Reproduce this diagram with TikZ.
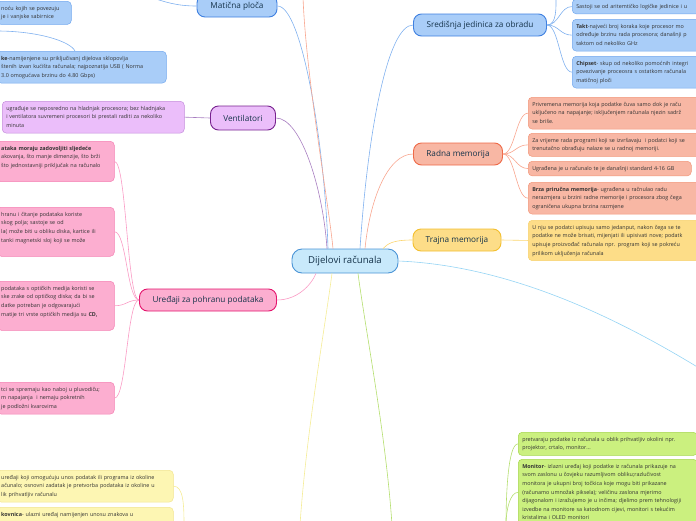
\documentclass[tikz,border=0pt]{standalone}
\usepackage{fontspec}
\setmainfont{Open Sans}
\definecolor{rootfill}{HTML}{C8E9FB}
\definecolor{rootline}{HTML}{4A94D6}
\definecolor{bluefill}{HTML}{A9CDF8}
\definecolor{blueline}{HTML}{3F80E0}
\definecolor{bluenote}{HTML}{72A8EE}
\definecolor{bluelink}{HTML}{80B1EF}
\definecolor{ramfill}{HTML}{F8B7A4}
\definecolor{ramline}{HTML}{EE6A48}
\definecolor{ramnote}{HTML}{F29679}
\definecolor{ramlink}{HTML}{F8A68F}
\definecolor{romfill}{HTML}{FDDD88}
\definecolor{romline}{HTML}{F3BF2E}
\definecolor{romlink}{HTML}{FBD56F}
\definecolor{fanfill}{HTML}{EBBEFA}
\definecolor{fanline}{HTML}{78238F}
\definecolor{fannote}{HTML}{C48CDC}
\definecolor{fanlink}{HTML}{A77DC0}
\definecolor{stfill}{HTML}{FCAED0}
\definecolor{stline}{HTML}{E4146D}
\definecolor{stnote}{HTML}{F47FB2}
\definecolor{stlink}{HTML}{FA9BC5}
\definecolor{infill}{HTML}{FDF6B3}
\definecolor{innote}{HTML}{F2E48E}
\definecolor{inlink}{HTML}{F5EC96}
\definecolor{outfill}{HTML}{CBF07F}
\definecolor{outnote}{HTML}{A5D64C}
\definecolor{outlink}{HTML}{B4DE6E}
\definecolor{farlink}{HTML}{95D4F4}
\definecolor{labeltext}{HTML}{15334A}
\definecolor{notetext}{HTML}{333333}

\begin{document}
\begin{tikzpicture}[x=1pt, y=-1pt]
\tikzstyle{topic}=[draw, line width=0.9pt, rounded corners=8pt, minimum height=22pt, inner xsep=6pt, text=labeltext, font=\fontsize{8.2}{10}\selectfont]
\tikzstyle{note}=[draw, line width=0.5pt, rounded corners=4pt, anchor=north west, align=left, inner xsep=4pt, inner ysep=3pt, text=notetext, font=\fontsize{5.4}{8.6}\selectfont, execute at begin node=\strut, execute at end node=\strut]
\tikzstyle{link}=[line width=0.6pt]
\useasboundingbox (0,0) rectangle (696,520);
% main topics
\node [topic, fill=rootfill, draw=rootline, minimum width=106pt, minimum height=24pt, rounded corners=10pt, font=\fontsize{9.6}{11}\selectfont] (root) at (345,261) {Dijelovi računala};
\node [topic, fill=bluefill, draw=blueline, minimum width=80pt] (mb) at (237,6) {Matična ploča};
\node [topic, fill=bluefill, draw=blueline, minimum width=133pt] (cpu) at (480,25) {Središnja jedinica za obradu};
\node [topic, fill=ramfill, draw=ramline, minimum width=89pt] (ram) at (458,154) {Radna memorija};
\node [topic, fill=romfill, draw=romline, minimum width=88pt] (rom) at (457,240) {Trajna memorija};
\node [topic, fill=fanfill, draw=fanline, minimum width=65pt, minimum height=24pt] (fan) at (243,118) {Ventilatori};
\node [topic, fill=stfill, draw=stline, minimum width=137pt] (stor) at (208,300) {Uređaji za pohranu podataka};
% notes
\node [note, fill=bluefill, draw=bluenote, text width=66pt] (mb1) at (-3,1) {noću kojih se povezuju\\je i vanjske sabirnice};
\node [note, fill=bluefill, draw=bluenote, text width=161pt] (mb2) at (-3,51) {\textbf{ke}-namijenjene su priključivanj dijelova sklopovlja\\štenih izvan kućišta računala; najpoznatija USB ( Norma\\3.0 omogućava brzinu do 4.80 Gbps)};
\node [note, fill=bluefill, draw=bluenote, text width=150pt] (cpu0) at (572,-1) {Sastoji se od aritemtičko logičke jedinice i u};
\node [note, fill=bluefill, draw=bluenote, text width=150pt] (cpu1) at (572,19) {\textbf{Takt}-najveći broj koraka koje procesor mo\\određuje brzinu rada procesora; današnji p\\taktom od nekoliko GHz};
\node [note, fill=bluefill, draw=bluenote, text width=150pt] (cpu2) at (572,56) {\textbf{Chipset}- skup od nekoliko pomoćnih integri\\povezivanje proceosra s ostatkom računala\\matičnoj ploči};
\node [note, fill=ramfill, draw=ramnote, text width=180pt] (ram1) at (528,97) {Privremena memorija koja podatke čuva samo dok je raču\\uključeno na napajanje; isključenjem računala njezin sadrž\\se briše.};
\node [note, fill=ramfill, draw=ramnote, text width=180pt] (ram2) at (528,133) {Za vrijeme rada programi koji se izvršavaju\ \ i podatci koji se\\trenutačno obrađuju nalaze se u radnoj memoriji.};
\node [note, fill=ramfill, draw=ramnote, text width=155pt] (ram3) at (528,161) {Ugrađena je u računalo te je današnji standard 4-16 GB};
\node [note, fill=ramfill, draw=ramnote, text width=180pt] (ram4) at (528,182) {\textbf{Brza priručna memorija}- ugrađena u račnulao radu\\nerazmjera u brzini radne memorije i procesora zbog čega\\ograničena ukupna brzina razmjene};
\node [note, fill=romfill, draw=romline!70, text width=180pt] (rom1) at (528,220) {U nju se podatci upisuju samo jedanput, nakon čega se te\\podatke ne može brisati, mijenjati ili upisivati nove; podatk\\upisuje proizvođač računala npr. program koji se pokreću\\prilikom uključenja računala};
\node [note, fill=fanfill, draw=fannote, text width=174pt] (fan1) at (2,101) {ugrađuje se neposredno na hladnjak procesora; bez hladnjaka\\i ventilatora suvremeni procesori bi prestali raditi za nekoliko\\minuta};
\node [note, fill=stfill, draw=stnote, text width=109pt] (st1) at (-3,141) {\textbf{ataka moraju zadovoljiti sljedeće}\\akovanja, što manje dimenzije, što brži\\što jednostavniji priključak na računalo\\};
\node [note, fill=stfill, draw=stnote, text width=109pt] (st2) at (-3,207) {hranu i čitanje podataka koriste\\skog polja; sastoje se od\\la( može biti u obliku diska, kartice ili\\ tanki magnetski sloj koji se može\\};
\node [note, fill=stfill, draw=stnote, text width=109pt] (st3) at (-3,281) {podataka s optičkih medija koristi se\\ske zrake od optičkog diska; da bi se\\datke potreban je odgovarajući\\matije tri vrste optičkih medija su \textbf{CD,}\\};
\node [note, fill=stfill, draw=stnote, text width=109pt] (st4) at (-3,382) {tci se spremaju kao naboj u pluvodiču;\\m napajanja\ \ i nemaju pokretnih\\je podložni kvarovima};
\node [note, fill=infill, draw=innote, text width=168pt] (in1) at (-3,470) {uređaji koji omogućuju unos podatak ili programa iz okoline\\ačunalo; osnovni zadatak je pretvorba podataka iz okoline u\\lik prihvatljiv računalu};
\node [note, fill=infill, draw=innote, text width=168pt] (in2) at (-3,507) {\textbf{kovnica}- ulazni uređaj namijenjen unosu znakova u\\};
\node [note, fill=outfill, draw=outnote, text width=171pt] (out1) at (518,432) {pretvaraju podatke iz računala u oblik prihvatljiv okolini npr.\\projektor, crtalo, monitor...};
\node [note, fill=outfill, draw=outnote, text width=171pt] (out2) at (518,459) {\textbf{Monitor}- izlazni uređaj koji podatke iz računala prikazuje na\\svom zaslonu u čovjeku razumljivom obliku;razlučivost\\monitora je ukupni broj točkica koje mogu biti prikazane\\(računamo umnožak piksela); veličinu zaslona mjerimo\\dijagonalom i izražujemo je u inčima; djelimo prem tehnologiji\\izvedbe na monitore sa katodnom cijevi, monitori s tekućim\\kristalima i OLED monitori};
% free ends
\coordinate (topcut) at (303,-3);
\coordinate (mbup) at (150,-3);
\coordinate (cpuup) at (556,-3);
\coordinate (mbleft) at (-3,31);
\coordinate (inroot) at (300,525);
\coordinate (outroot) at (392,525);
\coordinate (inup) at (184,525);
\coordinate (outdown) at (506,525);
\coordinate (farend) at (712,376);
% links to the root
\draw [link, bluelink] (mb.east) .. controls +(25,0) and +(-3,-100) .. ([xshift=-17pt]root.north);
\draw [link, ramlink] (topcut) .. controls +(3,80) and +(-5,-50) .. ([xshift=-12pt]root.north);
\draw [link, fanlink] (fan.east) .. controls +(25,0) and +(-4,-60) .. ([xshift=-18pt]root.north);
\draw [link, bluelink] (cpu.west) .. controls +(-25,0) and +(8,-120) .. ([xshift=15pt]root.north);
\draw [link, ramlink] (ram.west) .. controls +(-25,0) and +(5,-50) .. ([xshift=20pt]root.north);
\draw [link, romlink] (rom.west) .. controls +(-20,0) and +(5,-5) .. ([xshift=38pt]root.north);
\draw [link, stlink] (stor.east) .. controls +(20,0) and +(-5,12) .. ([xshift=-29pt]root.south);
\draw [link, inlink] ([xshift=-13pt]root.south) .. controls +(-8,60) and +(6,-90) .. (inroot);
\draw [link, outlink] ([xshift=13pt]root.south) .. controls +(8,60) and +(-6,-90) .. (outroot);
\draw [link, farlink] (root.east) .. controls +(120,5) and +(-80,-50) .. (farend);
% links to the notes
\draw [link, bluelink] (mb.west) .. controls +(-20,0) and +(15,5) .. (mbup);
\draw [link, bluelink] (mbleft) .. controls +(40,0) and +(-5,-10) .. ([xshift=78pt]mb2.north west);
\draw [link, bluelink] (cpu.east) .. controls +(10,0) and +(0,10) .. (cpuup);
\foreach \n in {cpu0,cpu1,cpu2}
  \draw [link, bluelink] (cpu.east) .. controls +(12,0) and +(-12,0) .. (\n.west);
\foreach \n in {ram1,ram2,ram3,ram4}
  \draw [link, ramlink] (ram.east) .. controls +(12,0) and +(-12,0) .. (\n.west);
\draw [link, romlink] (rom.east) -- (rom1.west);
\draw [link, fanlink] (fan.west) -- (fan1.east);
\foreach \n in {st1,st2,st3,st4}
  \draw [link, stlink] (stor.west) .. controls +(-12,0) and +(12,0) .. (\n.east);
\draw [link, inlink] (in1.east) .. controls +(10,0) and +(0,-20) .. (inup);
\draw [link, outlink] (outdown) .. controls +(0,-30) and +(-10,0) .. (out1.west);
\draw [link, outlink] (outdown) .. controls +(0,-15) and +(-8,0) .. (out2.west);
\end{tikzpicture}
\end{document}
